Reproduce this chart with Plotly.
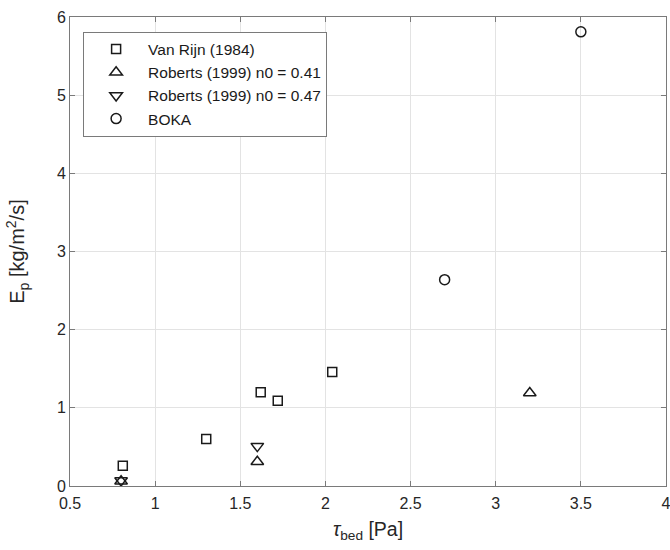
import plotly.graph_objects as go

vanrijn_x = [0.81, 1.30, 1.62, 1.72, 2.04]
vanrijn_y = [0.26, 0.60, 1.20, 1.09, 1.46]
rob41_x = [0.80, 1.60, 3.20]
rob41_y = [0.06, 0.31, 1.19]
rob47_x = [0.80, 1.60]
rob47_y = [0.07, 0.51]
boka_x = [2.70, 3.50]
boka_y = [2.64, 5.81]

series = [
    ("Van Rijn (1984)", vanrijn_x, vanrijn_y, "square-open", 9),
    ("Roberts (1999) n0 = 0.41", rob41_x, rob41_y, "triangle-up-open", 11),
    ("Roberts (1999) n0 = 0.47", rob47_x, rob47_y, "triangle-down-open", 11),
    ("BOKA", boka_x, boka_y, "circle-open", 10),
]

fig = go.Figure()
for name, xs, ys, sym, sz in series:
    fig.add_trace(go.Scatter(
        x=xs, y=ys, mode="markers", name=name,
        marker=dict(symbol=sym, size=sz, color="#1a1a1a", line=dict(width=1.5, color="#1a1a1a")),
    ))

axis_common = dict(
    showgrid=True, gridcolor="#e3e3e3", gridwidth=1,
    showline=True, linecolor="#7a7a7a", linewidth=1, mirror="ticks",
    ticks="inside", ticklen=5, tickcolor="#7a7a7a",
    tickfont=dict(family="Liberation Sans, Arial", size=16, color="#262626"),
    zeroline=False, automargin=False, ticklabeloverflow="allow",
)

fig.update_layout(
    width=670, height=550,
    margin=dict(l=70, r=4, t=17, b=64),
    paper_bgcolor="white", plot_bgcolor="white",
    font=dict(family="Liberation Sans, Arial", size=16, color="#262626"),
    xaxis=dict(range=[0.5, 4], tickvals=[0.5, 1, 1.5, 2, 2.5, 3, 3.5, 4],
               ticktext=["0.5", "1", "1.5", "2", "2.5", "3", "3.5", "4"],
               ticklabelstandoff=3,
               title=dict(text="<i>τ</i><sub>bed</sub> [Pa]", font=dict(size=19.5), standoff=11),
               **axis_common),
    yaxis=dict(range=[0, 6], dtick=1,
               title=dict(text="E<sub>p</sub> [kg/m<sup>2</sup>/s]", font=dict(size=20), standoff=26),
               **axis_common),
    legend=dict(x=0.022, y=0.969, xanchor="left", yanchor="top",
                bgcolor="white", bordercolor="#7a7a7a", borderwidth=1,
                font=dict(size=15.5, color="#1a1a1a"), itemwidth=54,
                tracegroupgap=0),
    showlegend=True,
)

fig.write_html("out.html", config={"displayModeBar": False},
               post_script="document.body.style.margin='0';")
